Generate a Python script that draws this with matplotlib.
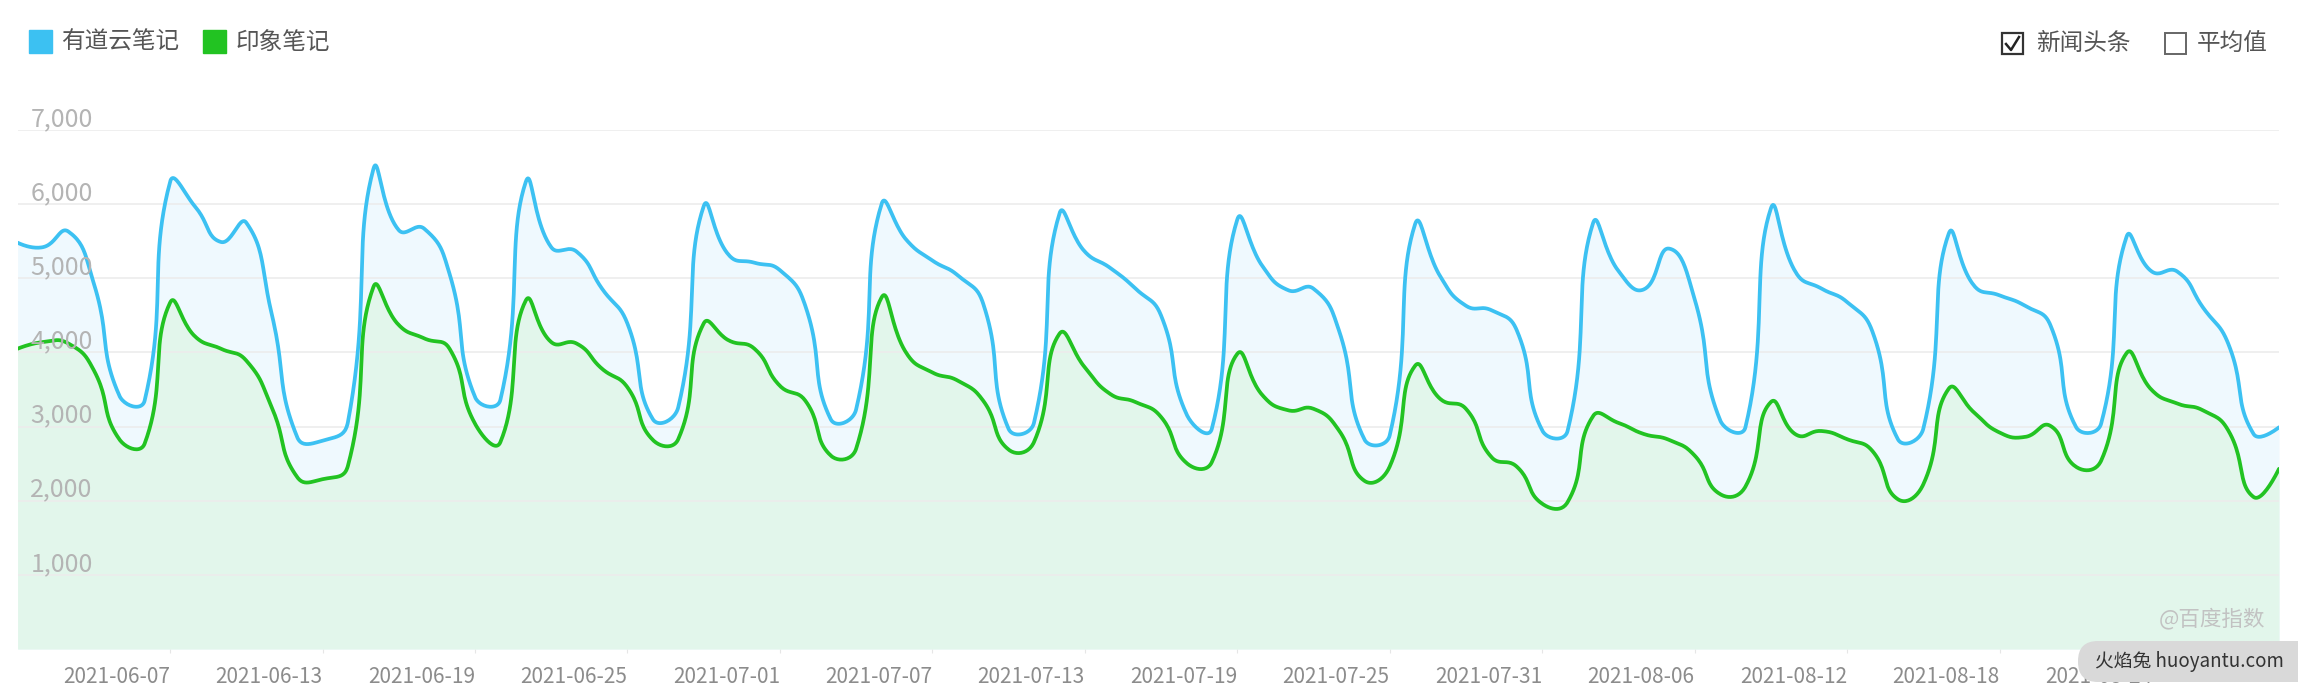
import matplotlib
matplotlib.use('Agg')
import matplotlib.pyplot as plt
import numpy as np
import pandas as pd
from matplotlib.patches import Rectangle, FancyBboxPatch
from matplotlib.lines import Line2D
from matplotlib.transforms import IdentityTransform

plt.rcParams['font.family'] = ['Noto Sans CJK SC', 'DejaVu Sans']

W, H = 2298, 697

dates = pd.date_range('2021-06-01', periods=90)

youdao = [5480, 5420, 5630, 4930, 3420, 3350, 6300, 5960, 5490, 5750,
          4520, 2860, 2810, 3060, 6470, 5650, 5670, 5060, 3400, 3360,
          6300, 5420, 5360, 4860, 4390, 3100, 3260, 5970, 5310, 5210,
          5110, 4630, 3100, 3230, 6000, 5510, 5240, 5040, 4660, 2970,
          3050, 5870, 5360, 5140, 4860, 4500, 3170, 2970, 5790, 5160,
          4840, 4860, 4300, 2830, 2880, 5730, 5020, 4630, 4570, 4300,
          2950, 2940, 5740, 5100, 4850, 5400, 4720, 3090, 2990, 5940,
          5070, 4860, 4680, 4280, 2830, 2970, 5600, 4900, 4770, 4630,
          4370, 3000, 3040, 5560, 5090, 5090, 4610, 4120, 2900, 2990]

evernote = [4050, 4140, 4120, 3760, 2830, 2770, 4670, 4210, 4050, 3890,
            3260, 2320, 2290, 2470, 4880, 4370, 4190, 4050, 3040, 2790,
            4700, 4140, 4120, 3780, 3530, 2820, 2830, 4390, 4160, 4050,
            3550, 3350, 2610, 2700, 4740, 3980, 3730, 3620, 3350, 2690,
            2790, 4250, 3800, 3440, 3330, 3130, 2510, 2520, 3980, 3420,
            3220, 3240, 2950, 2270, 2460, 3820, 3370, 3240, 2590, 2460,
            1960, 1980, 3140, 3050, 2900, 2820, 2610, 2090, 2190, 3330,
            2890, 2940, 2830, 2670, 2020, 2220, 3510, 3190, 2920, 2860,
            3010, 2460, 2540, 3990, 3490, 3310, 3220, 2950, 2050, 2430]

y_ticks = [1000, 2000, 3000, 4000, 5000, 6000, 7000]
y_labels = ['1,000', '2,000', '3,000', '4,000', '5,000', '6,000', '7,000']
x_tick_idx = list(range(6, 90, 6))
x_labels = [d.strftime('%Y-%m-%d') for d in dates[x_tick_idx]]

blue = '#3cc1f2'
green = '#22c322'


def smooth_curve(ys, sx, sy, smooth=0.5, n=24):
    # echarts-like bezier smoothing, done in pixel space
    px = np.arange(len(ys)) * sx
    py = np.asarray(ys, dtype=float) * sy
    m = len(px)
    cf = np.zeros((m, 2))
    cb = np.zeros((m, 2))
    for i in range(m):
        if i == 0 or i == m - 1:
            cf[i] = cb[i] = (px[i], py[i])
            continue
        vx = px[i + 1] - px[i - 1]
        vy = py[i + 1] - py[i - 1]
        d0 = np.hypot(px[i] - px[i - 1], py[i] - py[i - 1])
        d1 = np.hypot(px[i + 1] - px[i], py[i + 1] - py[i])
        r = d1 / (d0 + d1)
        cf[i] = (px[i] + vx * smooth * r, py[i] + vy * smooth * r)
        cb[i] = (px[i] - vx * smooth * (1 - r), py[i] - vy * smooth * (1 - r))
    t = np.linspace(0, 1, n, endpoint=False)[:, None]
    out = []
    for i in range(m - 1):
        p0 = np.array([px[i], py[i]])
        p3 = np.array([px[i + 1], py[i + 1]])
        c1, c2 = cf[i], cb[i + 1]
        seg = ((1 - t) ** 3) * p0 + 3 * ((1 - t) ** 2) * t * c1 + 3 * (1 - t) * t ** 2 * c2 + t ** 3 * p3
        out.append(seg)
    out.append(np.array([[px[-1], py[-1]]]))
    out = np.vstack(out)
    return out[:, 0] / sx, out[:, 1] / sy


fig = plt.figure(figsize=(W / 100, H / 100), dpi=100)
left, right, top, bottom = 17.6, 2279, 130, 649
ax = fig.add_axes([left / W, 1 - bottom / H, (right - left) / W, (bottom - top) / H])
ax.set_xlim(0, len(dates) - 1)
ax.set_ylim(0, 7000)

sx = (right - left) / (len(dates) - 1)
sy = (bottom - top) / 7000.0
bx, by = smooth_curve(youdao, sx, sy)
gx, gy = smooth_curve(evernote, sx, sy)

ax.fill_between(bx, by, 0, color='#eff9fe', lw=0, zorder=1)
ax.fill_between(gx, gy, 0, color='#e2f6eb', lw=0, zorder=2)
for v in y_ticks:
    ax.axhline(v, color='#ececec', lw=1.2, zorder=3)
ax.plot(bx, by, color=blue, lw=2.7, zorder=5, solid_capstyle='round')
ax.plot(gx, gy, color=green, lw=2.7, zorder=6, solid_capstyle='round')

for s in ax.spines.values():
    s.set_visible(False)
ax.set_yticks([])
ax.set_xticks(x_tick_idx)
ax.set_xticklabels(x_labels, ha='right', fontsize=15, color='#8c8c8c')
ax.tick_params(axis='x', length=3, color='#e6e6e6', pad=9)

for v, lab in zip(y_ticks, y_labels):
    ax.annotate(lab, xy=(0.0056, v), xycoords=('axes fraction', 'data'),
                xytext=(0, 4), textcoords='offset pixels', va='baseline',
                ha='left', fontsize=18, color='#b4b4b4', zorder=7)


def fx(x):
    return x / W


def fy(y):
    return 1 - y / H


# legend
fig.add_artist(Rectangle((fx(29), fy(53)), 23 / W, 23 / H, color=blue, transform=fig.transFigure))
fig.text(fx(61), fy(42), '有道云笔记', fontsize=17, color='#555555', va='center', ha='left')
fig.add_artist(Rectangle((fx(203), fy(53)), 23 / W, 23 / H, color=green, transform=fig.transFigure))
fig.text(fx(236), fy(42), '印象笔记', fontsize=17, color='#555555', va='center', ha='left')

# checkboxes
fig.add_artist(Rectangle((fx(2002), fy(54)), 21 / W, 21 / H, fill=False, ec='#333333', lw=1.6,
                         transform=fig.transFigure))
fig.add_artist(Line2D([fx(2006), fx(2011), fx(2019)], [fy(44), fy(50), fy(37)], color='#222222',
                      lw=1.8, transform=fig.transFigure))
fig.text(fx(2036), fy(44), '新闻头条', fontsize=17, color='#555555', va='center', ha='left')
fig.add_artist(Rectangle((fx(2165), fy(54)), 21 / W, 21 / H, fill=False, ec='#666666', lw=1.4,
                         transform=fig.transFigure))
fig.text(fx(2197), fy(44), '平均值', fontsize=17, color='#555555', va='center', ha='left')

# watermarks
fig.text(fx(2265), fy(619), '@百度指数', fontsize=15.5, color='#c2c2c2', va='center', ha='right')
badge = FancyBboxPatch((2078, H - 682), 280, 41, boxstyle='round,pad=0,rounding_size=20',
                       fc='#d9d9d9', ec='none', transform=IdentityTransform(), zorder=10)
fig.add_artist(badge)
fig.text(fx(2284), fy(662), '火焰兔 huoyantu.com', fontsize=13.5, color='#333333', va='center',
         ha='right', zorder=11)

fig.savefig('out.png', dpi=100)
